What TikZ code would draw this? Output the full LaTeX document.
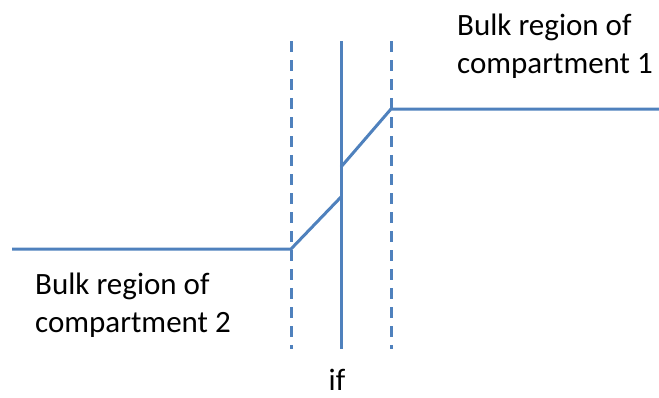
\documentclass[tikz,border=0pt]{standalone}
\usepackage{fontspec}
\setmainfont{Carlito}
\usepackage{xcolor}
\usepackage{tikz}
\usetikzlibrary{positioning,calc}
\definecolor{profblue}{HTML}{4F81BD}

\begin{document}
\begin{tikzpicture}[x=1pt,y=-1pt,font=\fontsize{31}{38}\selectfont,
  profile/.style={profblue,line width=3pt,line join=miter},
  wall/.style={profblue,line width=3pt,dash pattern=on 11pt off 8pt},
  label/.style={inner sep=0pt,align=left,anchor=north west}]
\useasboundingbox (0,0) rectangle (659,397);
\coordinate (wL) at (12,249);
\coordinate (k1) at (291,249);
\coordinate (j1) at (341,197);
\coordinate (j2) at (341,167);
\coordinate (k2) at (391,109);
\coordinate (wR) at (659,109);
\coordinate (dLt) at (291,41);
\coordinate (dLb) at (291,349);
\coordinate (ift) at (341,41);
\coordinate (ifb) at (341,349);
\coordinate (dRt) at (391,41);
\coordinate (dRb) at (391,349);
\draw[wall] (dLt) -- (dLb);
\draw[wall] (dRt) -- (dRb);
\draw[profile] (ift) -- (ifb);
\draw[profile] (wL) -- (k1) -- (j1);
\draw[profile] (j2) -- (k2) -- (wR);
\node[label] (bulk1) at (457,14) {Bulk region of\\compartment 1};
\node[label] (bulk2) at (35,273) {Bulk region of\\compartment 2};
\node[anchor=base,inner sep=0pt] (if) at (337,390) {if};
\end{tikzpicture}
\end{document}
